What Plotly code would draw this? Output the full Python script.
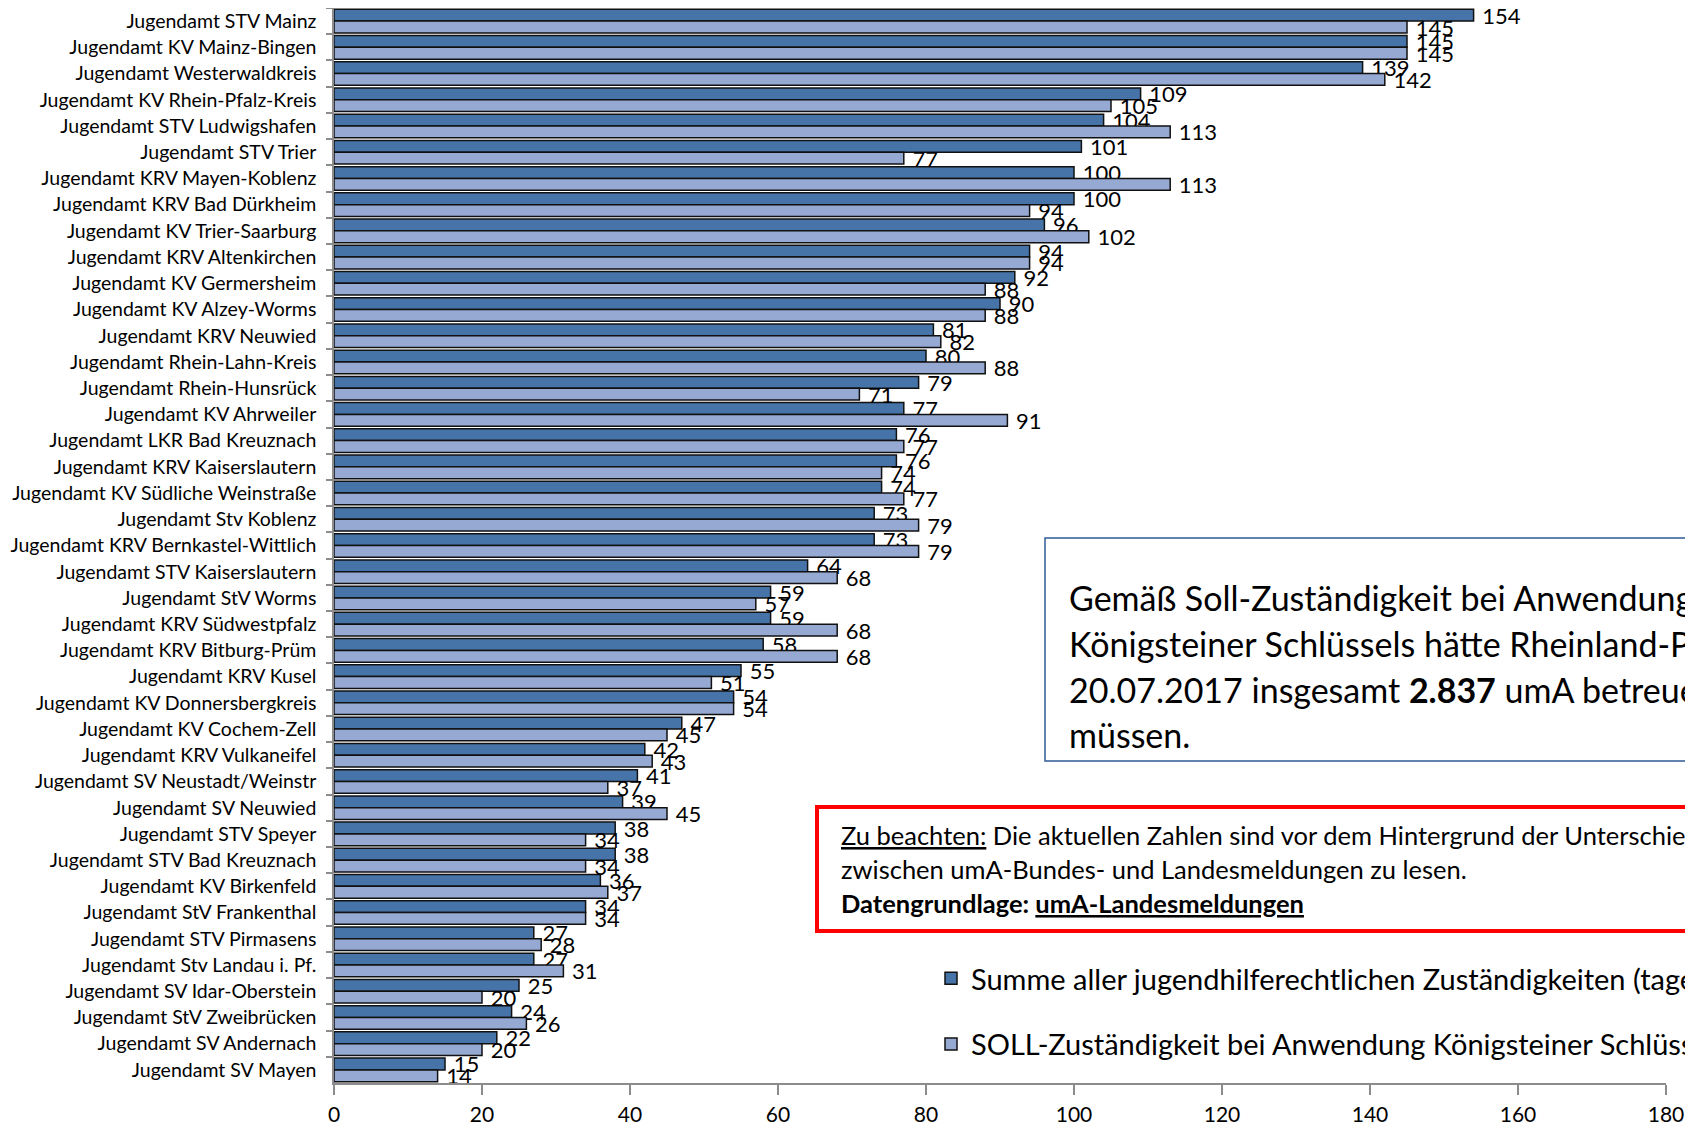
import plotly.graph_objects as go

categories = [
    "Jugendamt STV Mainz", "Jugendamt KV Mainz-Bingen", "Jugendamt Westerwaldkreis",
    "Jugendamt KV Rhein-Pfalz-Kreis", "Jugendamt STV Ludwigshafen", "Jugendamt STV Trier",
    "Jugendamt KRV Mayen-Koblenz", "Jugendamt KRV Bad Dürkheim", "Jugendamt KV Trier-Saarburg",
    "Jugendamt KRV Altenkirchen", "Jugendamt KV Germersheim", "Jugendamt KV Alzey-Worms",
    "Jugendamt KRV Neuwied", "Jugendamt Rhein-Lahn-Kreis", "Jugendamt Rhein-Hunsrück",
    "Jugendamt KV Ahrweiler", "Jugendamt LKR Bad Kreuznach", "Jugendamt KRV Kaiserslautern",
    "Jugendamt KV Südliche Weinstraße", "Jugendamt Stv Koblenz", "Jugendamt KRV Bernkastel-Wittlich",
    "Jugendamt STV Kaiserslautern", "Jugendamt StV Worms", "Jugendamt KRV Südwestpfalz",
    "Jugendamt KRV Bitburg-Prüm", "Jugendamt KRV Kusel", "Jugendamt KV Donnersbergkreis",
    "Jugendamt KV Cochem-Zell", "Jugendamt KRV Vulkaneifel", "Jugendamt SV Neustadt/Weinstr",
    "Jugendamt SV Neuwied", "Jugendamt STV Speyer", "Jugendamt STV Bad Kreuznach",
    "Jugendamt KV Birkenfeld", "Jugendamt StV Frankenthal", "Jugendamt STV Pirmasens",
    "Jugendamt Stv Landau i. Pf.", "Jugendamt SV Idar-Oberstein", "Jugendamt StV Zweibrücken",
    "Jugendamt SV Andernach", "Jugendamt SV Mayen",
]

summe_values = [154, 145, 139, 109, 104, 101, 100, 100, 96, 94, 92, 90, 81, 80, 79, 77, 76, 76,
                74, 73, 73, 64, 59, 59, 58, 55, 54, 47, 42, 41, 39, 38, 38, 36, 34, 27, 27, 25,
                24, 22, 15]
soll_values = [145, 145, 142, 105, 113, 77, 113, 94, 102, 94, 88, 88, 82, 88, 71, 91, 77, 74,
               77, 79, 79, 68, 57, 68, 68, 51, 54, 45, 43, 37, 45, 34, 34, 37, 34, 28, 31, 20,
               26, 20, 14]

x_ticks = [0, 20, 40, 60, 80, 100, 120, 140, 160, 180]

series_names = [
    "Summe aller jugendhilferechtlichen Zuständigkeiten (tagesaktuell)",
    "SOLL-Zuständigkeit bei Anwendung Königsteiner Schlüssel",
]

info_lines = [
    "Gemäß Soll-Zuständigkeit bei Anwendung des",
    "Königsteiner Schlüssels hätte Rheinland-Pfalz am",
    "20.07.2017 insgesamt <b>2.837</b> umA betreuen",
    "müssen.",
]
note_lines = [
    "<span style='text-decoration:underline'>Zu beachten:</span> Die aktuellen Zahlen sind vor dem Hintergrund der Unterschiede",
    "zwischen umA-Bundes- und Landesmeldungen zu lesen.",
    "<b>Datengrundlage: <span style='text-decoration:underline'>umA-Landesmeldungen</span></b>",
]

FONT = "Lato"
DARK = "#4674A8"
LIGHT = "#95A9D3"
AXIS = "#8C8C8C"

W, H = 1677, 1116
OFF = 8
ML, MR, MT, MB = 326, 19, 0, 41
PX0 = OFF + ML
PW = W - ML - MR
PY0 = OFF + MT
PH = H - MT - MB


def px(x):
    return (x - PX0) / PW


def py(y):
    return 1 - (y - PY0) / PH


fig = go.Figure()
for name, vals, col in [(series_names[0], summe_values, DARK), (series_names[1], soll_values, LIGHT)]:
    fig.add_trace(go.Bar(
        name=name, y=categories, x=vals, orientation="h",
        marker=dict(color=col, line=dict(color="#111111", width=1.5)),
        text=["\u00a0" + str(v) for v in vals], textposition="outside", constraintext="none",
        textfont=dict(family=FONT, size=22, color="#000000"), cliponaxis=False,
        legendgroup=name,
    ))

fig.update_layout(
    width=W, height=H, barmode="group", bargap=0.1, bargroupgap=0.0,
    paper_bgcolor="white", plot_bgcolor="white",
    margin=dict(l=ML, r=MR, t=MT, b=MB, autoexpand=False),
    font=dict(family=FONT, color="#000000"),
    legend=dict(
        x=px(931), y=py(953), xanchor="left", yanchor="top",
        font=dict(family=FONT, size=29, color="#000000"),
        bgcolor="rgba(0,0,0,0)", tracegroupgap=25, traceorder="grouped",
    ),
    showlegend=True,
)

fig.update_yaxes(
    type="category", autorange="reversed", tickson="boundaries",
    ticks="outside", ticklen=6, tickwidth=1.5, tickcolor=AXIS,
    showline=True, linecolor=AXIS, linewidth=1.5, showgrid=False,
    tickfont=dict(family=FONT, size=19.5, color="#000000"), ticklabelstandoff=12,
)
fig.update_xaxes(
    range=[0, 180], tickvals=x_ticks, ticktext=[str(v) for v in x_ticks],
    ticks="outside", ticklen=10, tickwidth=1.5, tickcolor=AXIS,
    showline=True, linecolor=AXIS, linewidth=1.5, showgrid=False, zeroline=False,
    tickfont=dict(family=FONT, size=21, color="#000000"), ticklabelstandoff=2,
    ticklabeloverflow="allow",
)

# Info box (blue)
fig.add_shape(type="rect", xref="paper", yref="paper",
              x0=px(1045), x1=px(1760), y0=py(538), y1=py(761),
              line=dict(color="#2F5A97", width=1.5), fillcolor="white", layer="above")
for line, yc in zip(info_lines, [597, 643, 689, 734]):
    fig.add_annotation(text=line, xref="paper", yref="paper", x=px(1067), y=py(yc),
                       xanchor="left", yanchor="middle", showarrow=False,
                       font=dict(family=FONT, size=34, color="#000000"))

# Note box (red)
fig.add_shape(type="rect", xref="paper", yref="paper",
              x0=px(817), x1=px(1760), y0=py(807), y1=py(931),
              line=dict(color="#FF0000", width=4), fillcolor="white", layer="above")
for line, yc in zip(note_lines, [835, 869, 903]):
    fig.add_annotation(text=line, xref="paper", yref="paper", x=px(839), y=py(yc),
                       xanchor="left", yanchor="middle", showarrow=False,
                       font=dict(family=FONT, size=25.5, color="#000000"))

fig.write_html("out.html")
